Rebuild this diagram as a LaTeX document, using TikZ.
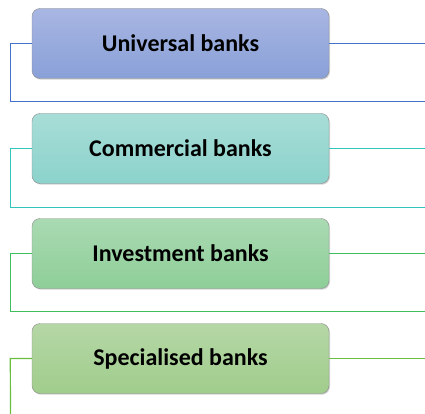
\documentclass[tikz,border=0pt]{standalone}
\usepackage{fontspec}
\setmainfont{Carlito}
\usepackage{xcolor}
\usetikzlibrary{shadows,positioning}

\definecolor{unitop}{RGB}{168,182,226}
\definecolor{unibot}{RGB}{137,160,216}
\definecolor{uniline}{RGB}{68,114,200}
\definecolor{comtop}{RGB}{168,221,215}
\definecolor{combot}{RGB}{140,210,204}
\definecolor{comline}{RGB}{51,196,188}
\definecolor{invtop}{RGB}{170,218,178}
\definecolor{invbot}{RGB}{142,206,152}
\definecolor{invline}{RGB}{64,190,92}
\definecolor{spetop}{RGB}{181,215,166}
\definecolor{spebot}{RGB}{160,205,140}
\definecolor{speline}{RGB}{104,190,62}

\begin{document}
\begin{tikzpicture}[x=1pt,y=-1pt]
      \tikzstyle{bnode} = [draw=black!45, rounded corners = 8pt, minimum width = 297pt, minimum height = 70pt, inner sep = 2pt,
        font=\fontsize{24}{28}\selectfont\bfseries,
        drop shadow={shadow xshift=1pt, shadow yshift=-1.2pt, opacity=0.35}]
      \tikzstyle{link} = [line width = 1.2pt]

      \useasboundingbox (0,0) rectangle (425,414);

      \node[bnode, top color=unitop, bottom color=unibot] (uni) at (180.5, 43.5) {Universal banks};
      \node[bnode, top color=comtop, bottom color=combot] (com) at (180.5, 148.5) {Commercial banks};
      \node[bnode, top color=invtop, bottom color=invbot] (inv) at (180.5, 253.5) {Investment banks};
      \node[bnode, top color=spetop, bottom color=spebot] (spe) at (180.5, 358.5) {Specialised banks};

      % free ends
      \coordinate (uniR) at (425, 43.5);
      \coordinate (uniB) at (425, 101.5);
      \coordinate (comR) at (425, 148.5);
      \coordinate (comB) at (425, 207.5);
      \coordinate (invR) at (425, 253.5);
      \coordinate (invB) at (425, 311.5);
      \coordinate (speR) at (425, 358.5);
      \coordinate (speB) at (10.5, 414);

      % connections
      \draw[link, color=uniline] (uni.east) -- (uniR);
      \draw[link, color=uniline] (uni.west) -- ++(-21.5,0) |- (uniB);
      \draw[link, color=comline] (com.east) -- (comR);
      \draw[link, color=comline] (com.west) -- ++(-21.5,0) |- (comB);
      \draw[link, color=invline] (inv.east) -- (invR);
      \draw[link, color=invline] (inv.west) -- ++(-21.5,0) |- (invB);
      \draw[link, color=speline] (spe.east) -- (speR);
      \draw[link, color=speline] (spe.west) -- ++(-21.5,0) -- (speB);
    \end{tikzpicture}
\end{document}
